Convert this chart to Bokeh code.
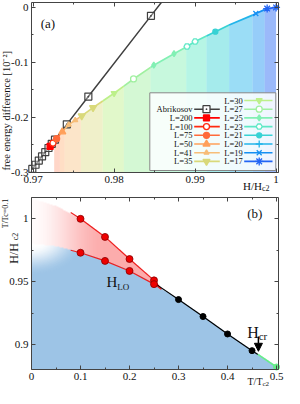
import numpy as np
from bokeh.plotting import figure
from bokeh.layouts import column
from bokeh.models import (Range1d, FixedTicker, NumeralTickFormatter, LinearAxis,
                          Label, Arrow, NormalHead)
from bokeh.embed import file_html
from bokeh.resources import INLINE

FONT = "Liberation Serif"
INK = "#111111"
FRAME = "#444444"

# ================= panel (a) data =================
abr_x = [0.9699, 0.9703, 0.9707, 0.9711, 0.9715, 0.9719, 0.9723, 0.9727, 0.97416, 0.97682, 0.98455]
abr_y = [-0.2935, -0.2859, -0.2783, -0.2707, -0.2631, -0.2555, -0.2479, -0.2403, -0.2125, -0.1620, -0.0153]
abr_tail_x = [0.98583]          # where the Abrikosov line leaves the top of the panel
abr_tail_y = [0.009]

# domain edges of the lowest-energy L states and the curve value there
band_x = [0.9719, 0.9723, 0.9726, 0.9733, 0.9739, 0.9759, 0.9786, 0.9812,
          0.9845, 0.9889, 0.9914, 0.9942, 0.9971, 0.9986, 1.0000]
band_y = [-0.256, -0.249, -0.244, -0.231, -0.221, -0.198, -0.170, -0.143,
          -0.109, -0.072, -0.052, -0.032, -0.014, -0.004, 0.000]

l200_x = [0.9721];          l200_y = [-0.2525]
l100_x = [0.97245];         l100_y = [-0.2465]
l75_x = [0.9729];           l75_y = [-0.2385]
l50_x = [0.9736];           l50_y = [-0.226]
l41_x = [0.9744, 0.9752];   l41_y = [-0.213, -0.205]
l35_x = [0.9760, 0.9774];   l35_y = [-0.197, -0.182]
l30_x = [0.9800];           l30_y = [-0.156]
l27_x = [0.9824];           l27_y = [-0.130]
l25_x = [0.9849, 0.9874];   l25_y = [-0.105, -0.084]
l23_x = [0.9890, 0.9900];   l23_y = [-0.071, -0.062]
l21_x = [0.9925];           l21_y = [-0.044]
l20_x = [];                 l20_y = []
l19_x = [0.9975];           l19_y = [-0.011]
l17_x = [0.9989, 1.0000];   l17_y = [-0.002, 0.000]

a_xticks = [0.97, 0.98, 0.99, 1.0]
a_xminor = [0.975, 0.985, 0.995]
a_yticks = [-0.3, -0.2, -0.1, 0.0]
a_yminor = [-0.25, -0.15, -0.05]

# ================= panel (b) data =================
blue_T = [0.00, 0.05, 0.10, 0.15, 0.20, 0.25, 0.30, 0.35, 0.40, 0.45, 0.50]
blue_H = [0.980, 0.978, 0.973, 0.9665, 0.9585, 0.948, 0.9357, 0.9222, 0.9083, 0.895, 0.882]
pink_T = [0.00, 0.05, 0.10, 0.15, 0.20, 0.25, 0.265]
pink_H = [1.016, 1.010, 1.000, 0.9856, 0.968, 0.951, 0.944]

red_T = [0.10, 0.15, 0.20, 0.25]
red_up_H = [1.000, 0.9856, 0.968, 0.951]
red_lo_H = [0.973, 0.9665, 0.9585, 0.948]
redline_T = [0.08, 0.10, 0.15, 0.20, 0.25, 0.265]
redline_up_H = [1.005, 1.000, 0.9856, 0.968, 0.951, 0.944]
redline_lo_H = [0.975, 0.973, 0.9665, 0.9585, 0.948, 0.944]

black_T = [0.30, 0.35, 0.40, 0.45]
black_H = [0.9357, 0.9222, 0.9083, 0.895]
blackline_T = [0.25, 0.30, 0.35, 0.40, 0.45, 0.462]
blackline_H = [0.949, 0.9357, 0.9222, 0.9083, 0.895, 0.892]
green_T = [0.462, 0.500]
green_H = [0.892, 0.882]

b_xticks = [0.0, 0.1, 0.2, 0.3, 0.4, 0.5]
b_xminor = [0.05, 0.15, 0.25, 0.35, 0.45]
b_yticks = [0.9, 0.95, 1.0]
b_yminor = [0.925, 0.975]

# ================= layout constants (page pixels) =================
XA = (0.9698, 1.0003); YA = (-0.3, 0.009)
XB = (0.0, 0.504);     YB = (0.88, 1.017)
A_L, A_T, A_R, A_B = 39, 10, 286, 180      # plot box of panel (a)
B_L, B_T, B_R, B_B = 39, 205, 286, 377     # plot box of panel (b)
FIG_W = 284
A_TOP, A_HGT = 8, 194                      # figure (a) on the page
B_TOP, B_HGT = 202, 194                    # figure (b) on the page


def ax_(px):
    return XA[0] + (px - A_L) / (A_R - A_L) * (XA[1] - XA[0])


def ay_(py):
    return YA[1] - (py - A_T) / (A_B - A_T) * (YA[1] - YA[0])


def bx_(px):
    return XB[0] + (px - B_L) / (B_R - B_L) * (XB[1] - XB[0])


def by_(py):
    return YB[1] - (py - B_T) / (B_B - B_T) * (YB[1] - YB[0])


def make_fig(fx, fy, top, hgt, box_x, box_y, xt, xm, yt, ym):
    p = figure(width=FIG_W, height=hgt,
               x_range=Range1d(fx(8), fx(8 + FIG_W)),
               y_range=Range1d(fy(top + hgt), fy(top)),
               output_backend="svg", toolbar_location=None,
               min_border_left=0, min_border_right=0, min_border_top=0, min_border_bottom=0)
    p.xgrid.visible = False
    p.ygrid.visible = False
    p.outline_line_color = None
    p.background_fill_color = "white"
    p.border_fill_color = "white"
    bottom = p.below[0]
    left = p.left[0]
    bottom.fixed_location = box_y[0]
    left.fixed_location = box_x[0]
    top_ax = LinearAxis(fixed_location=box_y[1])
    right_ax = LinearAxis(fixed_location=box_x[1])
    p.add_layout(top_ax, "above")
    p.add_layout(right_ax, "right")
    for a in (bottom, top_ax):
        a.ticker = FixedTicker(ticks=xt, minor_ticks=xm)
        a.bounds = box_x
    for a in (left, right_ax):
        a.ticker = FixedTicker(ticks=yt, minor_ticks=ym)
        a.bounds = box_y
    for a in (bottom, left, top_ax, right_ax):
        a.axis_line_color = FRAME
        a.axis_line_width = 1
        a.major_tick_line_color = FRAME
        a.minor_tick_line_color = FRAME
        a.major_tick_in = 4
        a.major_tick_out = 0
        a.minor_tick_in = 2
        a.minor_tick_out = 0
        a.major_label_text_font = FONT
        a.major_label_text_font_size = "11px"
        a.major_label_text_color = INK
        a.formatter = NumeralTickFormatter(format="0.[00]")
    bottom.major_label_standoff = 3
    left.major_label_standoff = 3
    top_ax.major_label_text_color = None
    right_ax.major_label_text_color = None
    return p


def txt(p, x, y, s, size, align="left", baseline="alphabetic", angle=0.0, color=INK):
    p.add_layout(Label(x=x, y=y, text=s, text_font=FONT, text_font_size=size,
                       text_align=align, text_baseline=baseline, angle=angle,
                       text_color=color))


# ================= panel (a) =================
p1 = make_fig(ax_, ay_, A_TOP, A_HGT, XA, YA, a_xticks, a_xminor, a_yticks, a_yminor)

# (label, x, y, colour, marker, filled, size, band alpha)
series = [
    ("L=200", l200_x, l200_y, "#ff0000", "square", True, 6, 0.0),
    ("L=100", l100_x, l100_y, "#ff2a10", "circle", False, 6, 0.0),
    ("L=75", l75_x, l75_y, "#ff6a3a", "circle", True, 6, 0.28),
    ("L=50", l50_x, l50_y, "#ffa05a", "triangle", True, 7, 0.35),
    ("L=41", l41_x, l41_y, "#f7bd78", "triangle", True, 5, 0.4),
    ("L=35", l35_x, l35_y, "#d9d97a", "inverted_triangle", True, 7, 0.4),
    ("L=30", l30_x, l30_y, "#bdf08a", "inverted_triangle", True, 6, 0.45),
    ("L=27", l27_x, l27_y, "#a0f0a0", "circle", False, 6, 0.45),
    ("L=25", l25_x, l25_y, "#82f0b4", "diamond", True, 6, 0.45),
    ("L=23", l23_x, l23_y, "#5ee8c6", "hex", False, 6, 0.45),
    ("L=21", l21_x, l21_y, "#38d2d4", "circle", True, 5, 0.45),
    ("L=20", l20_x, l20_y, "#22b4ea", "cross", False, 7, 0.45),
    ("L=19", l19_x, l19_y, "#1690f2", "x", False, 7, 0.45),
    ("L=17", l17_x, l17_y, "#2264f4", "asterisk", False, 8, 0.45),
]

for i, s in enumerate(series):
    if s[7] > 0:
        p1.varea(x=[band_x[i], band_x[i + 1]], y1=[YA[0], YA[0]],
                 y2=[band_y[i], band_y[i + 1]], fill_color=s[3], fill_alpha=s[7])

p1.line(abr_x + abr_tail_x, abr_y + abr_tail_y, line_color="#404040", line_width=1.5)
p1.scatter(abr_x, abr_y, marker="square_dot", size=7, line_color="#404040",
           line_width=1.2, fill_color="white", fill_alpha=0.3)

for i, (lab, xs, ys, col, mk, filled, sz, _) in enumerate(series):
    lx = [band_x[i]] + xs + [band_x[i + 1]]
    ly = [band_y[i]] + ys + [band_y[i + 1]]
    p1.line(lx, ly, line_color=col, line_width=1.7)
    if xs:
        p1.scatter(xs, ys, marker=mk, size=sz, line_color=col, line_width=1.3,
                   fill_color=col if filled else "white")

# legend drawn by hand (label, then line sample with marker)
R, B = A_R, A_B
p1.quad(left=ax_(R - 128.7), right=ax_(R - 2.7), bottom=ay_(B - 2), top=ay_(B - 79.7),
        fill_color="white", fill_alpha=0.85, line_color="#888888", line_width=1)
left_entries = [("Abrikosov", "#404040", "square_dot", False, 7)] + \
    [(s[0], s[3], s[4], s[5], s[6]) for s in series[:6]]
right_entries = [(s[0], s[3], s[4], s[5], s[6]) for s in series[6:]]
for k, (lab, col, mk, filled, sz) in enumerate(left_entries):
    yy = ay_(B - (63.3 - 8.7 * k))
    txt(p1, ax_(R - 86), yy, lab, "8.5px", align="right", baseline="middle")
    p1.line([ax_(R - 84.3), ax_(R - 58.7)], [yy, yy], line_color=col, line_width=1.6)
    p1.scatter([ax_(R - 72)], [yy], marker=mk, size=sz, line_color=col, line_width=1.3,
               fill_color=col if filled else "white")
for k, (lab, col, mk, filled, sz) in enumerate(right_entries):
    yy = ay_(B - (72.0 - 8.7 * k))
    txt(p1, ax_(R - 54.3), yy, lab, "8.5px", align="left", baseline="middle")
    p1.line([ax_(R - 34.3), ax_(R - 6)], [yy, yy], line_color=col, line_width=1.6)
    p1.scatter([ax_(R - 19.3)], [yy], marker=mk, size=sz, line_color=col, line_width=1.3,
               fill_color=col if filled else "white")

txt(p1, 0.97094, -0.0298, "(a)", "13px")
txt(p1, ax_(14), -0.1877, "free energy difference [10\u207b\u00b2]", "10.5px",
    align="center", baseline="middle", angle=np.pi / 2)
txt(p1, ax_(250.5), ay_(193), "H/H", "11px")
txt(p1, ax_(269.5), ay_(195.5), "c2", "8px")

# ================= panel (b) =================
p2 = make_fig(bx_, by_, B_TOP, B_HGT, XB, YB, b_xticks, b_xminor, b_yticks, b_yminor)

nx, ny = 494, 344
gx = XB[0] + (np.arange(nx) + 0.5) / nx * (XB[1] - XB[0])
gy = YB[0] + (np.arange(ny) + 0.5) / ny * (YB[1] - YB[0])
GX, GY = np.meshgrid(gx, gy)
btop = np.interp(gx, blue_T, blue_H)[None, :]
ptop = np.interp(gx, pink_T, pink_H)[None, :]
in_blue = GY <= btop
in_pink = (GY > btop) & (GY <= ptop) & (GX <= pink_T[-1])


def smooth(a, b, t):
    t = np.clip((t - a) / (b - a), 0, 1)
    return t * t * (3 - 2 * t)


a_blue = smooth(0.2, 1.0, np.hypot(GX / 0.11, (0.985 - GY) / 0.03))
a_pink = 0.05 + 0.95 * smooth(0.0, 0.15, GX)
rgba = np.zeros((ny, nx, 4), dtype=np.uint8)
rgba[..., 0] = np.where(in_blue, 157, 252)
rgba[..., 1] = np.where(in_blue, 196, 172)
rgba[..., 2] = np.where(in_blue, 230, 172)
alpha = np.where(in_blue, a_blue, np.where(in_pink, a_pink, 0.0))
rgba[..., 3] = (alpha * 255).astype(np.uint8)
img = rgba.view(np.uint32).reshape(ny, nx)
p2.image_rgba(image=[img], x=XB[0], y=YB[0], dw=XB[1] - XB[0], dh=YB[1] - YB[0])

p2.line(redline_T, redline_up_H, line_color="#ee2020", line_width=1.2)
p2.line(redline_T, redline_lo_H, line_color="#ee2020", line_width=1.2)
p2.line(blackline_T, blackline_H, line_color="black", line_width=1.2)
p2.line(green_T, green_H, line_color="#66ee88", line_width=1.6)
p2.scatter(red_T, red_up_H, size=7, fill_color="#ee0000", line_color="#880000", line_width=0.8)
p2.scatter(red_T, red_lo_H, size=7, fill_color="#ee0000", line_color="#880000", line_width=0.8)
p2.scatter(black_T, black_H, size=6, fill_color="black", line_color="black")
p2.scatter(green_T[-1:], green_H[-1:], size=6, fill_color="#66ee88", line_color="#66ee88")

p2.add_layout(Arrow(end=NormalHead(size=8, fill_color="black", line_color="black"),
                    x_start=0.463, y_start=0.9062, x_end=0.463, y_end=0.8945,
                    line_width=1.5, line_color="black"))
txt(p2, 0.153, 0.9496, "H", "15px")
txt(p2, 0.175, 0.9458, "LO", "9px")
txt(p2, 0.440, 0.9096, "H", "16px")
txt(p2, 0.4635, 0.9070, "cr", "11px")
txt(p2, 0.440, 1.004, "(b)", "13px")

txt(p2, bx_(21), by_(261), "H/H", "12px", align="center", baseline="middle", angle=np.pi / 2)
txt(p2, bx_(22.5), by_(244), "c2", "8px", align="center", baseline="middle", angle=np.pi / 2)
txt(p2, bx_(12.5), by_(221), "T/Tc=0.1", "8px", align="center", baseline="middle", angle=np.pi / 2)
txt(p2, bx_(255), by_(389), "T/T", "10px")
txt(p2, bx_(270), by_(391), "c2", "7px")

layout = column(p1, p2)
open("out.html", "w").write(file_html(layout, INLINE))
